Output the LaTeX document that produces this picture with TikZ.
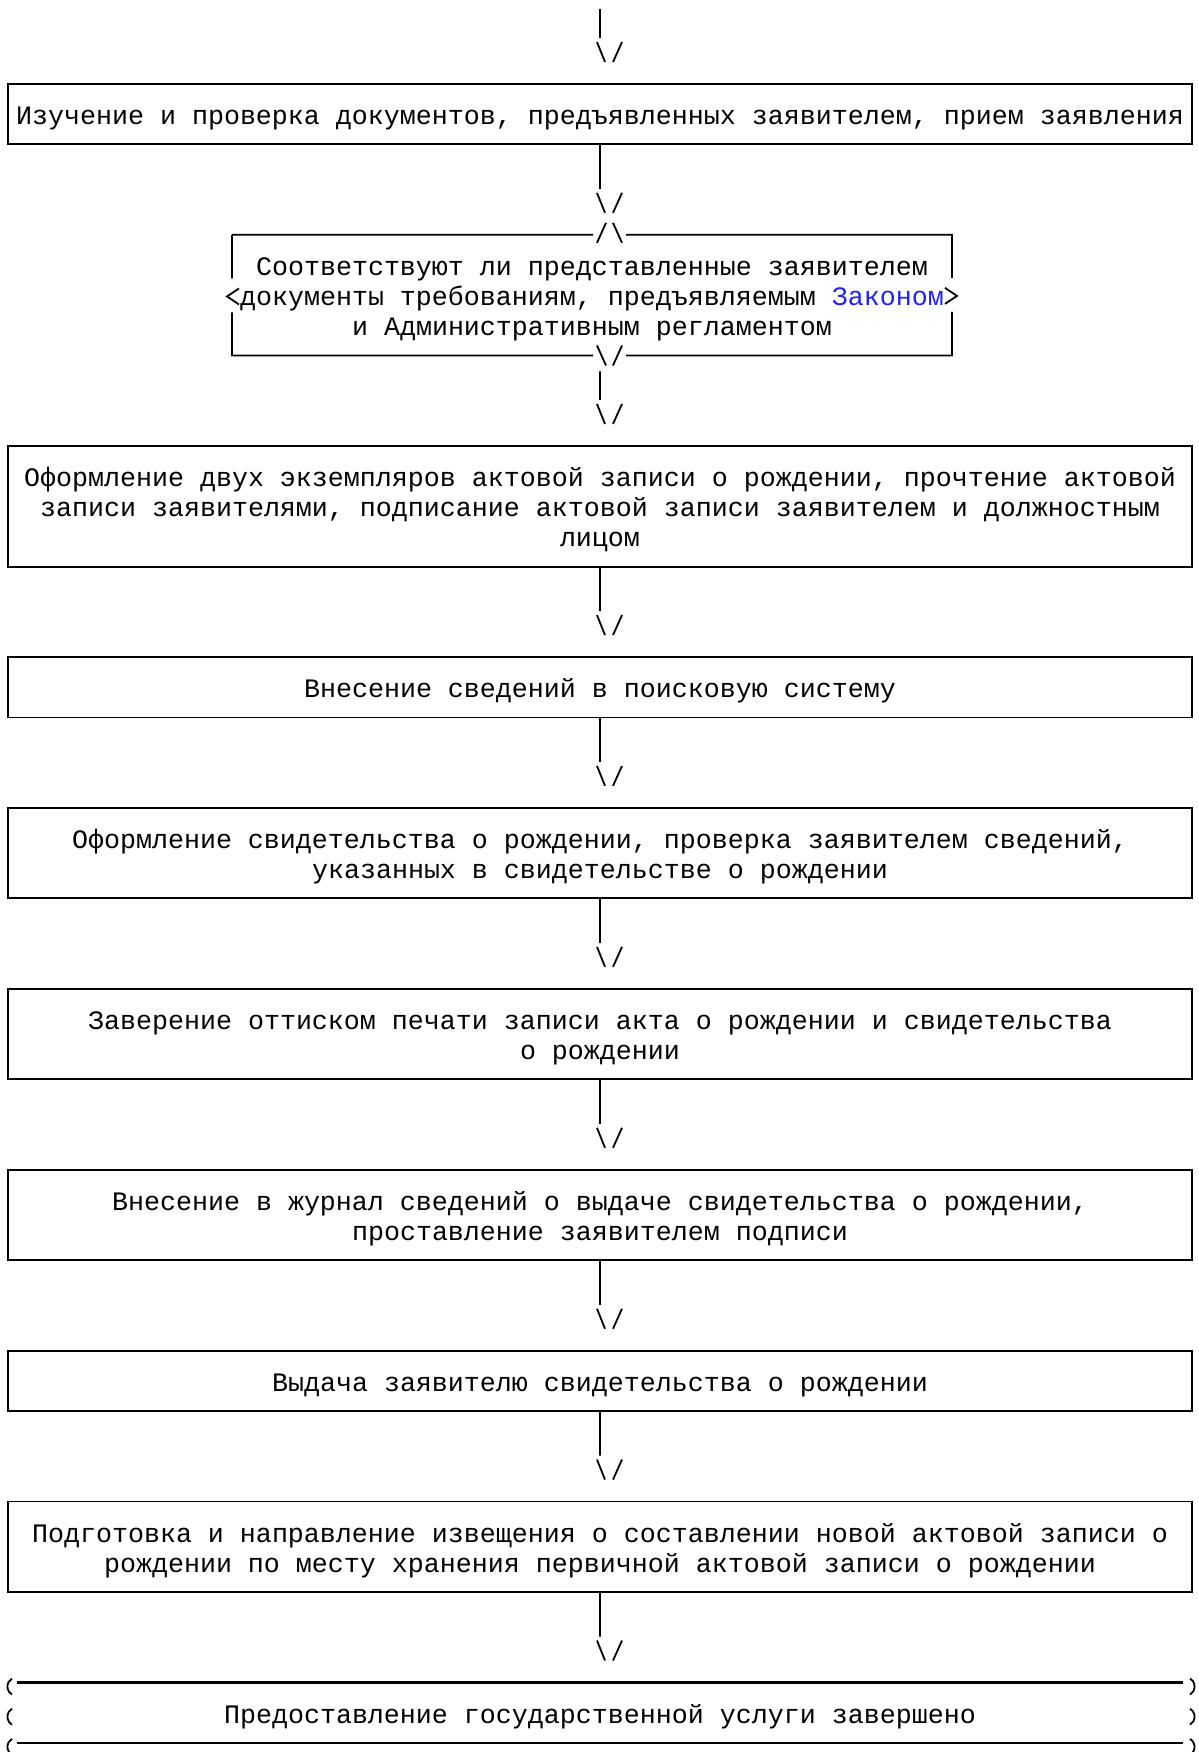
\documentclass[tikz,border=0pt]{standalone}
\usepackage{fontspec}
\setmainfont{Liberation Mono}
\usetikzlibrary{positioning,calc}
\definecolor{lawlink}{RGB}{34,34,238}
\tikzset{stage/.style={rectangle,draw,line width=0.9pt,minimum width=592pt,minimum height=30.16pt,text width=588pt,inner sep=2pt,outer sep=0pt,align=center,execute at begin node={\spaceskip=0.6em\xspaceskip=0.6em\rule{0pt}{15pt}},execute at end node=\strut}}
\tikzset{query/.style={stage,draw=none,minimum width=360pt,text width=356pt,minimum height=60.32pt}}
\tikzset{finish/.style={stage,draw=none}}
\tikzset{rim/.style={line width=0.9pt}}
\tikzset{downArrow/.style={line width=0.9pt,to path={(\tikztotarget) -- ($(\tikztotarget |- \tikztostart.north)+(0,-46)$) ($(\tikztotarget |- \tikztostart.north)+(-3,-42)$) -- ++(8,20) ($(\tikztotarget |- \tikztostart.north)+(22,-42)$) -- ++(-9,20)}}}

\begin{document}
\begin{tikzpicture}[x=0.5pt,y=-0.5pt,font=\fontsize{13.33}{15.08}\selectfont]
\useasboundingbox (0,0) rectangle (1199,1752);
\begin{scope}[node distance=45.24pt]
	\coordinate (entry) at (600,9);
	\node (study) [stage] at (600,114.2) {Изучение и проверка документов, предъявленных заявителем, прием заявления} edge [downArrow] (entry);
	\node (check) [query, below =of study, xshift=-4pt] {Соответствуют ли представленные заявителем\\документы требованиям, предъявляемым \textcolor{lawlink}{Законом}\\и Административным регламентом} edge [downArrow] (study);
	\coordinate (checkout) at ($(check.south)+(8,16)$);
	\node (record) [stage, minimum height=60.32pt, below =of check, xshift=4pt] {Оформление двух экземпляров актовой записи о рождении, прочтение актовой\\записи заявителями, подписание актовой записи заявителем и должностным\\лицом} edge [downArrow] (checkout);
	\node (enter) [stage, below =of record] {Внесение сведений в поисковую систему} edge [downArrow] (record);
	\node (certify) [stage, minimum height=45.24pt, below =of enter] {Оформление свидетельства о рождении, проверка заявителем сведений,\\указанных в свидетельстве о рождении} edge [downArrow] (enter);
	\node (seal) [stage, minimum height=45.24pt, below =of certify] {Заверение оттиском печати записи акта о рождении и свидетельства\\о рождении} edge [downArrow] (certify);
	\node (journal) [stage, minimum height=45.24pt, below =of seal] {Внесение в журнал сведений о выдаче свидетельства о рождении,\\проставление заявителем подписи} edge [downArrow] (seal);
	\node (issue) [stage, below =of journal] {Выдача заявителю свидетельства о рождении} edge [downArrow] (journal);
	\node (notice) [stage, minimum height=45.24pt, below =of issue] {Подготовка и направление извещения о составлении новой актовой записи о\\рождении по месту хранения первичной актовой записи о рождении} edge [downArrow] (issue);
	\node (done) [finish, below =of notice] {Предоставление государственной услуги завершено} edge [downArrow] (notice);
\end{scope}
% decision frame with the notches and side points
\draw[rim] (check.north west) -- ++(361,0) ++(4,8) -- ++(9,-20) ++(7,0) -- ++(9,20) ++(4,-8) -- (check.north east)
	-- ++(0,43) ++(-7,10) -- ++(12,8) -- ++(-12,8) ++(7,8) -- (check.south east)
	-- ++(-326,0) ++(-4,-10) -- ++(-9,20) ++(-7,0) -- ++(-9,-20) ++(-4,10) -- (check.south west)
	-- ++(0,-43) ++(7,-8) -- ++(-12,-8) -- ++(12,-8) ++(-7,-10) -- (check.north west);
% end frame
\draw[rim, line width=1.2pt] ($(done.north west)+(9,0)$) -- ($(done.north east)+(-9,0)$);
\draw[rim, line width=1.2pt] ($(done.south west)+(9,0)$) -- ($(done.south east)+(-9,0)$);
\foreach \k in {0,1,2} {
	\draw[rim] ($(done.north west)+(4,\k*30.16+12)$) arc[start angle=120,end angle=240,radius=9.24];
	\draw[rim] ($(done.north east)+(-2,\k*30.16-4)$) arc[start angle=-60,end angle=60,radius=9.24];
}
\end{tikzpicture}
\end{document}
